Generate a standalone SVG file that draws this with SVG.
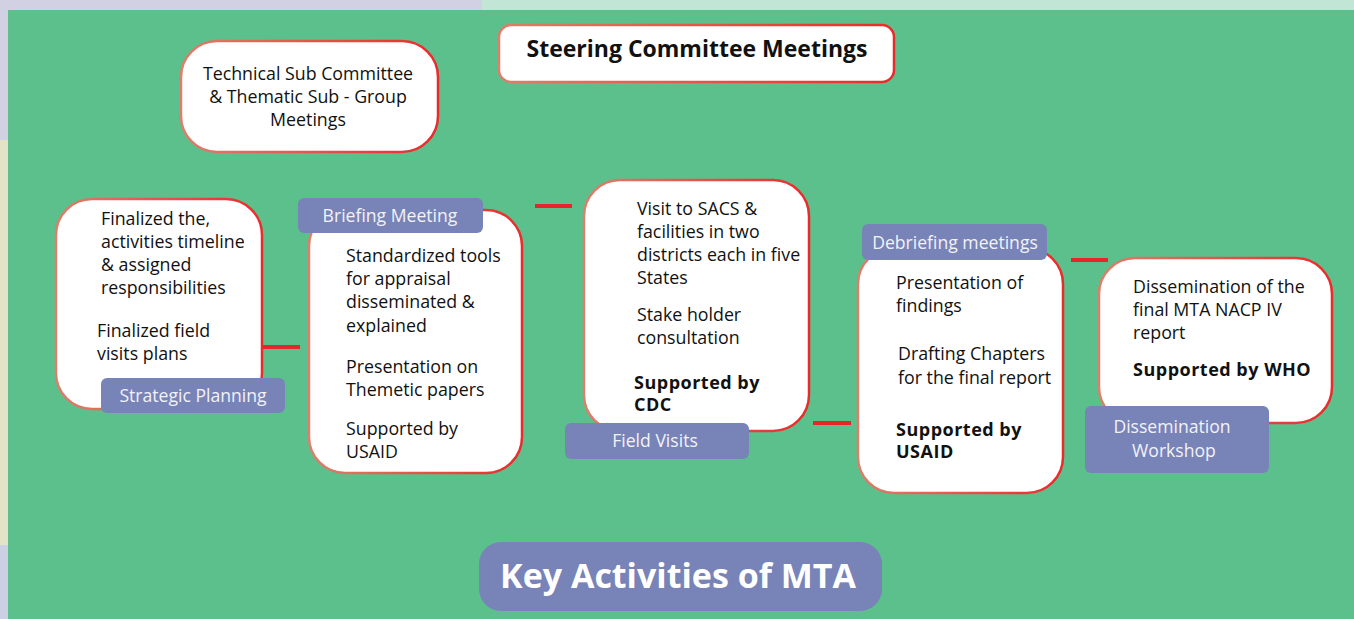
<svg xmlns="http://www.w3.org/2000/svg" width="1354" height="619" viewBox="0 0 1354 619">
<defs>
<linearGradient id="edge" x1="0" y1="0" x2="1" y2="0">
<stop offset="0" stop-color="#dc7f6c"/>
<stop offset="1" stop-color="#ea2b2b"/>
</linearGradient>
</defs>
<style>
.box{fill:#fff;stroke:url(#edge);stroke-width:2.5}
.lab{fill:#7883b8}
.t{font-family:"Open Sans",Lato,"Liberation Sans",sans-serif;font-size:17.8px;fill:#111}
.b{font-weight:bold;font-size:18px;letter-spacing:0.5px}
.lt{font-family:"Open Sans",Lato,"Liberation Sans",sans-serif;font-size:17.6px;fill:#f2f2f7;text-anchor:middle}
.c{text-anchor:middle}
.con{stroke:#e8252a;stroke-width:4;fill:none}
</style>
<rect x="0" y="0" width="1354" height="619" fill="#5bc08b"/>
<rect x="0" y="0" width="482" height="10" fill="#d1d1e3"/>
<rect x="482" y="0" width="872" height="10" fill="#c2e6d5"/>
<rect x="0" y="0" width="8" height="140" fill="#d1d1e3"/>
<rect x="0" y="140" width="8" height="405" fill="#e2e3c7"/>
<rect x="0" y="545" width="8" height="74" fill="#cbd0e5"/>

<g id="connectors">
<line class="con" x1="262" y1="347" x2="300" y2="347"/>
<line class="con" x1="535" y1="206" x2="572" y2="206"/>
<line class="con" x1="813" y1="423" x2="851" y2="423"/>
<line class="con" x1="1071" y1="260" x2="1108" y2="260"/>
</g>

<g id="technical">
<rect class="box" x="181" y="41" width="257" height="111" rx="36"/>
<text class="t c" x="308" y="80">Technical Sub Committee</text>
<text class="t c" x="308" y="103">&amp; Thematic Sub - Group</text>
<text class="t c" x="308" y="126">Meetings</text>
</g>

<g id="steering">
<rect class="box" x="499" y="25" width="395" height="57" rx="12"/>
<text class="t c" x="697" y="57" style="font-size:23px;font-weight:bold">Steering Committee Meetings</text>
</g>

<g id="strategic">
<rect class="box" x="56" y="199" width="206" height="210" rx="36"/>
<text class="t" x="101" y="225">Finalized the,</text>
<text class="t" x="101" y="248">activities timeline</text>
<text class="t" x="101" y="271">&amp; assigned</text>
<text class="t" x="101" y="294">responsibilities</text>
<text class="t" x="97" y="337">Finalized field</text>
<text class="t" x="97" y="360">visits plans</text>
<rect class="lab" x="101" y="378" width="184" height="35" rx="6"/>
<text class="lt" x="193" y="402">Strategic Planning</text>
</g>

<g id="briefing">
<rect class="box" x="309" y="210" width="213" height="263" rx="36"/>
<text class="t" x="346" y="262">Standardized tools</text>
<text class="t" x="346" y="285">for appraisal</text>
<text class="t" x="346" y="308">disseminated &amp;</text>
<text class="t" x="346" y="332">explained</text>
<text class="t" x="346" y="373">Presentation on</text>
<text class="t" x="346" y="396">Themetic papers</text>
<text class="t" x="346" y="435">Supported by</text>
<text class="t" x="346" y="458">USAID</text>
<rect class="lab" x="298" y="198" width="185" height="35" rx="6"/>
<text class="lt" x="390" y="222">Briefing Meeting</text>
</g>

<g id="field">
<rect class="box" x="584" y="180" width="225" height="251" rx="36"/>
<text class="t" x="637" y="215">Visit to SACS &amp;</text>
<text class="t" x="637" y="238">facilities in two</text>
<text class="t" x="637" y="261">districts each in five</text>
<text class="t" x="637" y="284">States</text>
<text class="t" x="637" y="321">Stake holder</text>
<text class="t" x="637" y="344">consultation</text>
<text class="t b" x="634" y="389">Supported by</text>
<text class="t b" x="634" y="411">CDC</text>
<rect class="lab" x="565" y="423" width="184" height="36" rx="6"/>
<text class="lt" x="655" y="447">Field Visits</text>
</g>

<g id="debriefing">
<rect class="box" x="858" y="248" width="205" height="245" rx="36"/>
<text class="t" x="896" y="289">Presentation of</text>
<text class="t" x="896" y="312">findings</text>
<text class="t" x="898" y="360">Drafting Chapters</text>
<text class="t" x="898" y="384">for the final report</text>
<text class="t b" x="896" y="436">Supported by</text>
<text class="t b" x="896" y="458">USAID</text>
<rect class="lab" x="862" y="224" width="185" height="36" rx="6"/>
<text class="lt" x="955" y="249">Debriefing meetings</text>
</g>

<g id="dissemination">
<rect class="box" x="1099" y="258" width="233" height="165" rx="36"/>
<text class="t" x="1133" y="293">Dissemination of the</text>
<text class="t" x="1133" y="316">final MTA NACP IV</text>
<text class="t" x="1133" y="339">report</text>
<text class="t b" x="1133" y="376">Supported by WHO</text>
<rect class="lab" x="1085" y="406" width="184" height="67" rx="6"/>
<text class="lt" x="1172" y="433">Dissemination</text>
<text class="lt" x="1174" y="457">Workshop</text>
</g>

<g id="title">
<rect class="lab" x="479" y="542" width="403" height="69" rx="22"/>
<text x="678" y="588" style="font-family:'Open Sans',Lato,'Liberation Sans',sans-serif;font-size:34px;font-weight:bold;fill:#fff;text-anchor:middle">Key Activities of MTA</text>
</g>
</svg>
